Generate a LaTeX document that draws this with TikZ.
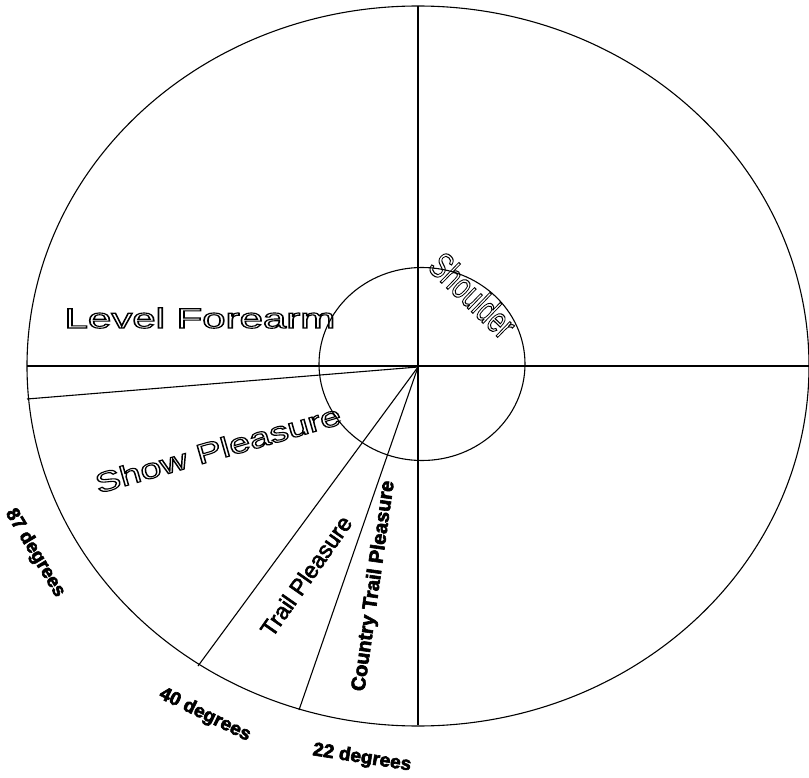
\documentclass[tikz,border=0pt]{standalone}
\usepackage{fontspec}
\setmainfont{Liberation Sans}
\usepackage{tikz}
\usetikzlibrary{positioning}

%% stroked (hollow) letters and heavier filled letters
\newcommand{\hollowtext}[1]{\special{pdf:literal direct 1 Tr 1.1 w}#1\special{pdf:literal direct 0 Tr}}
\newcommand{\heavytext}[1]{\special{pdf:literal direct 2 Tr 0.6 w}#1\special{pdf:literal direct 0 Tr}}

\begin{document}
\begin{tikzpicture}[x=1pt, y=-1pt,
    rim/.style={line width=1.1pt},
    hollow/.style={font=\fontsize{28}{30}\selectfont, xscale=1.5},
    tag/.style={font=\bfseries\fontsize{19}{21}\selectfont}]
  \useasboundingbox (0,0) rectangle (809,778);

  %% Outer and inner rings
  \draw[rim] (418,366) ellipse [x radius=391, y radius=360];
  \draw[rim] (422,364) ellipse [x radius=103, y radius=96.5];

  %% Hub and rim points
  \coordinate (hub)    at (418,367);
  \coordinate (top)    at (418,6);
  \coordinate (bottom) at (418,725);
  \coordinate (left)   at (27,366);
  \coordinate (right)  at (809,366);
  \coordinate (rim87)  at (27,399);
  \coordinate (rim40)  at (198,666);
  \coordinate (rim22)  at (299,710);

  %% Cross lines and angle spokes
  \draw[rim] (top) -- (bottom);
  \draw[rim] (left) -- (right);
  \draw[rim] (hub) -- (rim87);
  \draw[rim] (hub) -- (rim40);
  \draw[rim] (hub) -- (rim22);

  %% Region names
  \node[hollow] (forearm) at (200,318) {\hollowtext{Level Forearm}};
  \node[rotate=16, hollow, xscale=0.9] (show) at (218,449) {\hollowtext{Show Pleasure}};
  \node[rotate=-44, font=\fontsize{37}{39}\selectfont, xscale=0.7] (shoulder) at (473,295) {\hollowtext{Shoulder}};
  \node[rotate=55, font=\fontsize{23}{25}\selectfont] (trail) at (306,576) {\heavytext{Trail Pleasure}};
  \node[rotate=82, tag, font=\bfseries\fontsize{20}{22}\selectfont] (country) at (374,586) {\heavytext{Country Trail Pleasure}};

  %% Angle labels
  \node[rotate=-59, tag] (deg87) at (35,553) {\heavytext{87 degrees}};
  \node[rotate=-26, tag] (deg40) at (205,715) {\heavytext{40 degrees}};
  \node[rotate=-9, tag] (deg22) at (362,758) {\heavytext{22 degrees}};
\end{tikzpicture}
\end{document}
